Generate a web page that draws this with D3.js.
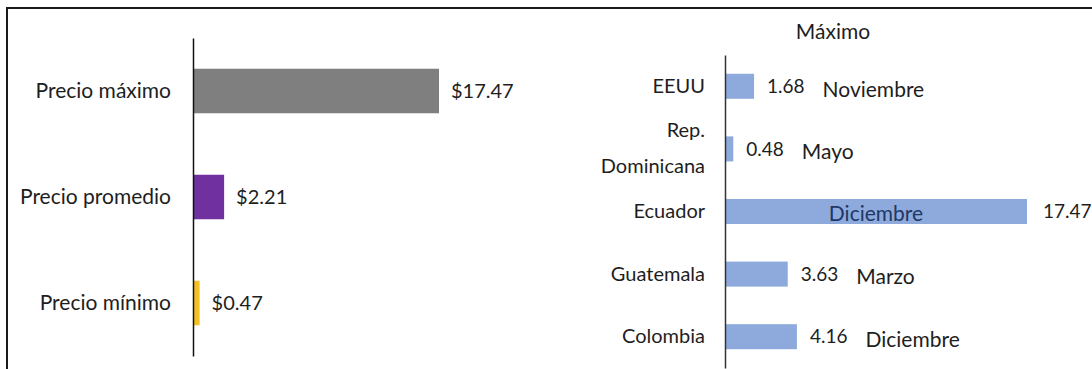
<!DOCTYPE html>
<html>
<head>
<meta charset="utf-8">
<script src="https://cdn.jsdelivr.net/npm/d3@7"></script>
<style>
  body { margin: 0; background: #fff; }
  text { font-family: Lato, "Open Sans", sans-serif; fill: #1e1e1e; }
</style>
</head>
<body>
<div id="chart"></div>
<script>
// left chart: price summary
let priceLabels = ["Precio máximo", "Precio promedio", "Precio mínimo"];
let priceValues = [17.47, 2.21, 0.47];

// right chart: maximum price per country
let countries = ["EEUU", "Rep. Dominicana", "Ecuador", "Guatemala", "Colombia"];
let maxValues = [1.68, 0.48, 17.47, 3.63, 4.16];
let maxMonths = ["Noviembre", "Mayo", "Diciembre", "Marzo", "Diciembre"];

let priceColors = ["#7f7f7f", "#7030a0", "#f5c026"];
let blue = "#8eaadc";
let fs = 21;

let svg = d3.select("#chart").append("svg")
    .attr("width", 1092).attr("height", 369);

// frame (top + left edge only)
svg.append("path")
    .attr("d", "M7,369V8H1092")
    .attr("fill", "none").attr("stroke", "#1a1a1a").attr("stroke-width", 2);

// ---- left chart ----
let x1 = d3.scaleLinear().domain([0, 17.47]).range([193, 439]);
let y1 = d3.scaleBand().domain(priceLabels).range([38, 356])
    .paddingInner(0.58).paddingOuter(0.29);

let left = svg.append("g");
left.selectAll("rect")
    .data(priceValues)
    .enter()
    .append("rect")
    .attr("x", x1(0))
    .attr("y", (d, i) => y1(priceLabels[i]))
    .attr("width", d => x1(d) - x1(0))
    .attr("height", y1.bandwidth())
    .attr("fill", (d, i) => priceColors[i]);

left.selectAll(".val")
    .data(priceValues)
    .enter()
    .append("text")
    .attr("class", "val")
    .attr("x", d => x1(d) + 12)
    .attr("y", (d, i) => y1(priceLabels[i]) + y1.bandwidth() / 2)
    .attr("dy", "0.35em")
    .attr("font-size", fs - 1)
    .text(d => "$" + d3.format(".2f")(d));

let ax1 = left.append("g")
    .attr("transform", "translate(193,0)")
    .call(d3.axisLeft(y1).tickSize(0).tickPadding(22));
ax1.select(".domain").attr("stroke", "#111").attr("stroke-width", 1.5);
ax1.selectAll("text").attr("font-size", fs).attr("font-family", null);

// ---- right chart ----
let x2 = d3.scaleLinear().domain([0, 17.47]).range([725, 1027]);
let y2 = d3.scaleBand().domain(countries).range([55, 368])
    .paddingInner(0.6).paddingOuter(0.3);

let right = svg.append("g");
right.append("text")
    .attr("x", 833).attr("y", 32)
    .attr("dy", "0.35em")
    .attr("text-anchor", "middle")
    .attr("font-size", fs)
    .text("Máximo");

right.selectAll("rect")
    .data(maxValues)
    .enter()
    .append("rect")
    .attr("x", x2(0))
    .attr("y", (d, i) => y2(countries[i]))
    .attr("width", d => x2(d) - x2(0))
    .attr("height", y2.bandwidth())
    .attr("fill", blue);

let vals = right.selectAll(".val")
    .data(maxValues)
    .enter()
    .append("text")
    .attr("class", "val")
    .attr("x", d => x2(d) + (d > 10 ? 16 : 13))
    .attr("y", (d, i) => y2(countries[i]) + y2.bandwidth() / 2)
    .attr("dy", "0.35em")
    .attr("font-size", fs - 2)
    .text(d => d3.format(".2f")(d));

// month labels: inside the bar when it is wide, otherwise after the value
vals.each(function(d, i) {
    let inside = x2(d) - x2(0) > 150;
    let cy = y2(countries[i]) + y2.bandwidth() / 2;
    let t = right.append("text")
        .attr("font-size", fs)
        .attr("dy", "0.35em")
        .text(maxMonths[i]);
    if (inside) {
        t.attr("x", (x2(0) + x2(d)) / 2).attr("y", cy + 2)
            .attr("text-anchor", "middle")
            .style("fill", "#1f3864");
    } else {
        t.attr("x", x2(d) + 13 + this.getComputedTextLength() + 18)
            .attr("y", cy + 3);
    }
});

let ax2 = right.append("g")
    .attr("transform", "translate(725,0)")
    .call(d3.axisLeft(y2).tickSize(0).tickPadding(20).tickSizeOuter(0));
ax2.select(".domain").attr("stroke", "#333").attr("stroke-width", 1.5);
ax2.selectAll("text")
    .attr("font-size", fs - 1)
    .attr("font-family", null)
    .each(function(d) {
        let parts = d.split(". ");
        if (parts.length > 1) {
            let t = d3.select(this).text(null);
            t.append("tspan").attr("x", -20).attr("dy", "-0.6em").text(parts[0] + ".");
            t.append("tspan").attr("x", -20).attr("dy", "1.8em").text(parts[1]);
        }
    });
</script>
</body>
</html>
